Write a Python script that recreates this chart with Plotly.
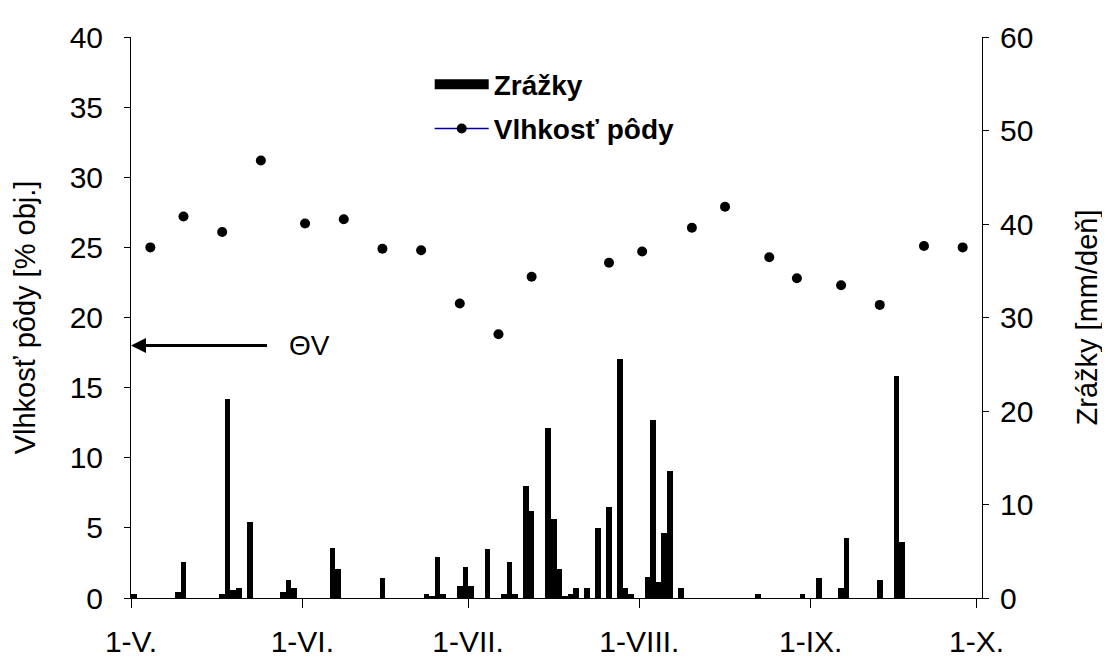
import plotly.graph_objects as go

# ---- data ----
rain_dates = [
    "2010-05-01", "2010-05-09", "2010-05-10", "2010-05-17", "2010-05-18", "2010-05-19",
    "2010-05-20", "2010-05-22", "2010-05-28", "2010-05-29", "2010-05-30",
    "2010-06-06", "2010-06-07", "2010-06-15", "2010-06-23", "2010-06-24", "2010-06-25",
    "2010-06-26", "2010-06-29", "2010-06-30",
    "2010-07-01", "2010-07-04", "2010-07-07", "2010-07-08", "2010-07-09", "2010-07-11",
    "2010-07-12", "2010-07-15", "2010-07-16", "2010-07-17", "2010-07-18", "2010-07-19",
    "2010-07-20", "2010-07-22", "2010-07-24", "2010-07-26", "2010-07-28", "2010-07-29",
    "2010-07-30",
    "2010-08-02", "2010-08-03", "2010-08-04", "2010-08-05", "2010-08-06", "2010-08-08",
    "2010-08-22", "2010-08-30",
    "2010-09-02", "2010-09-06", "2010-09-07", "2010-09-13", "2010-09-16", "2010-09-17",
]
rain_mm = [
    0.4, 0.6, 3.8, 0.4, 21.3, 0.9,
    1.1, 8.1, 0.6, 1.9, 1.1,
    5.4, 3.1, 2.1, 0.4, 0.2, 4.4,
    0.4, 1.3, 3.3,
    1.3, 5.2, 0.4, 3.9, 0.4, 12.0,
    9.3, 18.2, 8.5, 3.1, 0.2, 0.4,
    1.1, 1.1, 7.5, 9.7, 25.6, 1.1,
    0.4,
    2.3, 19.0, 1.7, 7.0, 13.6, 1.1,
    0.4, 0.4,
    2.1, 1.1, 6.4, 1.9, 23.7, 6.0,
]

moist_dates = [
    "2010-05-04", "2010-05-10", "2010-05-17", "2010-05-24", "2010-06-01", "2010-06-08",
    "2010-06-15", "2010-06-22", "2010-06-29", "2010-07-06", "2010-07-12", "2010-07-26",
    "2010-08-01", "2010-08-10", "2010-08-16", "2010-08-24", "2010-08-29", "2010-09-06",
    "2010-09-13", "2010-09-21", "2010-09-28",
]
moist_pct = [
    25.0, 27.2, 26.1, 31.2, 26.7, 27.0,
    24.9, 24.8, 21.0, 18.8, 22.9, 23.9,
    24.7, 26.4, 27.9, 24.3, 22.8, 22.3,
    20.9, 25.1, 25.0,
]

month_ticks = ["2010-05-01", "2010-06-01", "2010-07-01", "2010-08-01", "2010-09-01", "2010-10-01"]
month_labels = ["1-V.", "1-VI.", "1-VII.", "1-VIII.", "1-IX.", "1-X."]
x_range = ["2010-05-01", "2010-10-02"]
wilting_point = 18.0

DAY_MS = 86400000
FONT = "Liberation Sans, Arial, sans-serif"

fig = go.Figure()

fig.add_trace(go.Bar(
    x=rain_dates, y=rain_mm, name="Zrážky", yaxis="y2",
    xperiod=DAY_MS, xperiodalignment="middle", width=DAY_MS,
    marker=dict(color="black", line=dict(width=0)),
    showlegend=False, legendgroup="a",
))
# legend entry for the rainfall bars (wide black swatch as in the original)
fig.add_trace(go.Scatter(
    x=[None], y=[None], name="Zrážky", mode="lines", yaxis="y2",
    line=dict(color="black", width=18), legendgroup="a",
))

# interleave gaps so that no connecting line is drawn, while the legend shows line + marker
mx, my = [], []
for d, v in zip(moist_dates, moist_pct):
    mx += [d, None]
    my += [v, None]

fig.add_trace(go.Scatter(
    x=mx, y=my, name="Vlhkosť pôdy", mode="lines+markers",
    xperiod=DAY_MS, xperiodalignment="middle", connectgaps=False,
    line=dict(color="#000080", width=1.5),
    marker=dict(color="black", size=10),
    legendgroup="b",
))

fig.add_annotation(
    x=x_range[0], y=wilting_point, xref="x", yref="y",
    text="ΘV", showarrow=True, ax=178, ay=0, axref="pixel", ayref="pixel",
    arrowhead=2, arrowsize=1, arrowwidth=3, arrowcolor="black",
    startstandoff=20, xanchor="center",
    font=dict(size=28, color="black", family=FONT),
)

fig.update_layout(
    width=1102, height=662,
    margin=dict(l=123, r=124, t=19, b=63),
    paper_bgcolor="white", plot_bgcolor="white",
    font=dict(family=FONT, size=29, color="black"),
    bargap=0,
    showlegend=True,
    legend=dict(
        x=0.351, y=0.96, xanchor="left", yanchor="top",
        bgcolor="rgba(0,0,0,0)", itemwidth=54, tracegroupgap=5,
        font=dict(size=28, weight="bold", family=FONT),
    ),
    xaxis=dict(
        type="date", range=x_range,
        tickmode="array", tickvals=month_ticks, ticktext=month_labels,
        showgrid=False, zeroline=False,
        showline=True, linecolor="black", linewidth=1,
        ticks="outside", ticklen=9, tickcolor="black",
        ticklabelstandoff=8,
        tickfont=dict(size=30),
    ),
    yaxis=dict(
        range=[0, 40], dtick=5, tick0=0,
        showgrid=False, zeroline=False,
        showline=True, linecolor="black", linewidth=1,
        ticks="outside", ticklen=6, tickcolor="black",
        ticklabelstandoff=15,
        title=dict(text="Vlhkosť pôdy [% obj.]", standoff=25, font=dict(size=29)),
        tickfont=dict(size=30),
    ),
    yaxis2=dict(
        range=[0, 60], dtick=10, tick0=0,
        overlaying="y", side="right",
        showgrid=False, zeroline=False,
        showline=True, linecolor="black", linewidth=1,
        ticks="outside", ticklen=6, tickcolor="black",
        ticklabelstandoff=5,
        title=dict(text="Zrážky [mm/deň]", standoff=44, font=dict(size=29)),
        tickfont=dict(size=30),
    ),
)

fig.write_html("out.html")
